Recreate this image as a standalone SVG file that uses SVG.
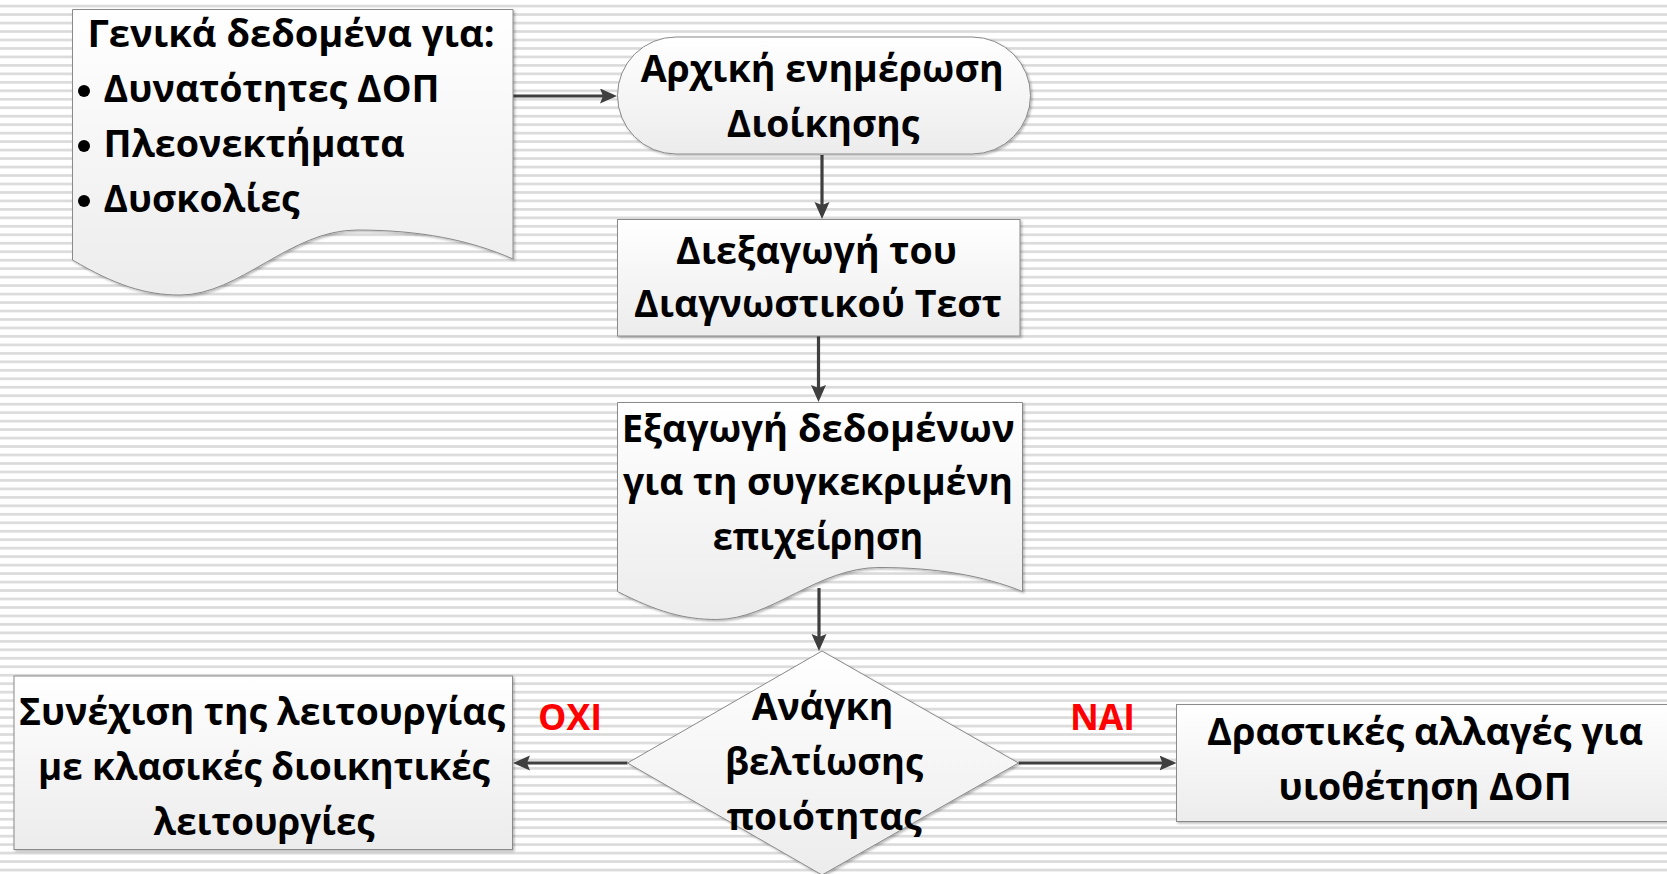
<svg xmlns="http://www.w3.org/2000/svg" width="1667" height="874" viewBox="0 0 1667 874">
  <defs>
    <!-- horizontal ruled background -->
    <pattern id="stripes" patternUnits="userSpaceOnUse" x="0" y="0" width="20" height="8.47">
      <rect x="0" y="4.8" width="20" height="2.6" fill="#dadada"/>
    </pattern>
    <linearGradient id="boxFill" x1="0" y1="0" x2="0" y2="1">
      <stop offset="0" stop-color="#ffffff"/>
      <stop offset="1" stop-color="#ececec"/>
    </linearGradient>
    <filter id="shadow" x="-5%" y="-5%" width="115%" height="115%">
      <feDropShadow dx="1.5" dy="1.5" stdDeviation="1" flood-color="#000" flood-opacity="0.28"/>
    </filter>
    <marker id="arrow" markerUnits="userSpaceOnUse" markerWidth="18" markerHeight="16" refX="13" refY="7.5" orient="auto">
      <path d="M0,0 L17,7.5 L0,15 L3,7.5 Z" fill="#3f3f3f"/>
    </marker>
  </defs>
  <style>
    .shape { fill: url(#boxFill); stroke: #8a8a8a; stroke-width: 1; filter: url(#shadow); }
    .lbl { font-family: "Open Sans", "Noto Sans", "DejaVu Sans", sans-serif; font-weight: bold; font-size: 37px; fill: #000; }
    .yn { font-family: "Open Sans", "Noto Sans", "DejaVu Sans", sans-serif; font-weight: bold; font-size: 36px; fill: #ff0000; }
    .conn { stroke: #3f3f3f; stroke-width: 3.2; fill: none; marker-end: url(#arrow); }
  </style>

  <rect x="0" y="0" width="1667" height="874" fill="#ffffff"/>
  <rect x="0" y="0" width="1667" height="874" fill="url(#stripes)"/>

  <g id="connectors">
    <line class="conn" x1="513" y1="96" x2="613" y2="96"/>
    <line class="conn" x1="822" y1="155" x2="822" y2="215"/>
    <line class="conn" x1="818.5" y1="336" x2="818.5" y2="398"/>
    <line class="conn" x1="819" y1="588" x2="819" y2="647"/>
    <line class="conn" x1="627.5" y1="763" x2="517" y2="763"/>
    <line class="conn" x1="1018.5" y1="763" x2="1172.5" y2="763"/>
  </g>

  <g id="general-data">
    <path class="shape" d="M72.5,9.5 H513 V259 C470,240 420,230 357,230 C290,230 240,295 180,295 C145,295 115,285 72.5,260 Z"/>
    <text class="lbl" x="87.5" y="47" textLength="407" lengthAdjust="spacingAndGlyphs">Γενικά δεδομένα για:</text>
    <circle cx="84" cy="91" r="6" fill="#000"/>
    <text class="lbl" x="103.6" y="102" textLength="336" lengthAdjust="spacingAndGlyphs">Δυνατότητες ΔΟΠ</text>
    <circle cx="84" cy="146" r="6" fill="#000"/>
    <text class="lbl" x="103.6" y="157" textLength="301" lengthAdjust="spacingAndGlyphs">Πλεονεκτήματα</text>
    <circle cx="84" cy="201" r="6" fill="#000"/>
    <text class="lbl" x="103.6" y="212" textLength="196" lengthAdjust="spacingAndGlyphs">Δυσκολίες</text>
  </g>

  <g id="initial-briefing">
    <rect class="shape" x="617.5" y="37" width="413" height="117" rx="58.5" ry="58.5"/>
    <text class="lbl" x="640.7" y="82" textLength="363" lengthAdjust="spacingAndGlyphs">Αρχική ενημέρωση</text>
    <text class="lbl" x="726.7" y="137" textLength="192.6" lengthAdjust="spacingAndGlyphs">Διοίκησης</text>
  </g>

  <g id="diagnostic-test">
    <rect class="shape" x="617.5" y="219.5" width="402.5" height="116.5"/>
    <text class="lbl" x="676" y="263.5" textLength="281" lengthAdjust="spacingAndGlyphs">Διεξαγωγή του</text>
    <text class="lbl" x="634" y="317" textLength="368" lengthAdjust="spacingAndGlyphs">Διαγνωστικού Τεστ</text>
  </g>

  <g id="company-data">
    <path class="shape" d="M617.5,402.5 H1022.5 V591.5 C982.8,575.5 936.9,567.5 879,567.5 C817.4,567.5 771.4,619.5 716.3,619.5 C684.1,619.5 656.5,611.5 617.5,591.5 Z"/>
    <text class="lbl" x="621.7" y="442" textLength="393" lengthAdjust="spacingAndGlyphs">Εξαγωγή δεδομένων</text>
    <text class="lbl" x="623" y="495" textLength="390" lengthAdjust="spacingAndGlyphs">για τη συγκεκριμένη</text>
    <text class="lbl" x="712.7" y="550" textLength="210.6" lengthAdjust="spacingAndGlyphs">επιχείρηση</text>
  </g>

  <g id="quality-decision">
    <polygon class="shape" points="822,651 1018.5,763 822,875 627.5,763"/>
    <text class="lbl" x="751.7" y="720" textLength="141.6" lengthAdjust="spacingAndGlyphs">Ανάγκη</text>
    <text class="lbl" x="725" y="775" textLength="198" lengthAdjust="spacingAndGlyphs">βελτίωσης</text>
    <text class="lbl" x="726.7" y="830" textLength="195" lengthAdjust="spacingAndGlyphs">ποιότητας</text>
  </g>

  <g id="continue-classic">
    <rect class="shape" x="14" y="676" width="498.5" height="173.5"/>
    <text class="lbl" x="19" y="725" textLength="486" lengthAdjust="spacingAndGlyphs">Συνέχιση της λειτουργίας</text>
    <text class="lbl" x="37.9" y="780" textLength="452" lengthAdjust="spacingAndGlyphs">με κλασικές διοικητικές</text>
    <text class="lbl" x="153.6" y="835" textLength="221" lengthAdjust="spacingAndGlyphs">λειτουργίες</text>
  </g>

  <g id="drastic-changes">
    <rect class="shape" x="1176.5" y="704.5" width="500" height="117"/>
    <text class="lbl" x="1207" y="745" textLength="436" lengthAdjust="spacingAndGlyphs">Δραστικές αλλαγές για</text>
    <text class="lbl" x="1278.6" y="800" textLength="293" lengthAdjust="spacingAndGlyphs">υιοθέτηση ΔΟΠ</text>
  </g>

  <g id="branch-labels">
    <text class="yn" x="538" y="730" textLength="64" lengthAdjust="spacingAndGlyphs">ΟΧΙ</text>
    <text class="yn" x="1070" y="730" textLength="65" lengthAdjust="spacingAndGlyphs">ΝΑΙ</text>
  </g>
</svg>
